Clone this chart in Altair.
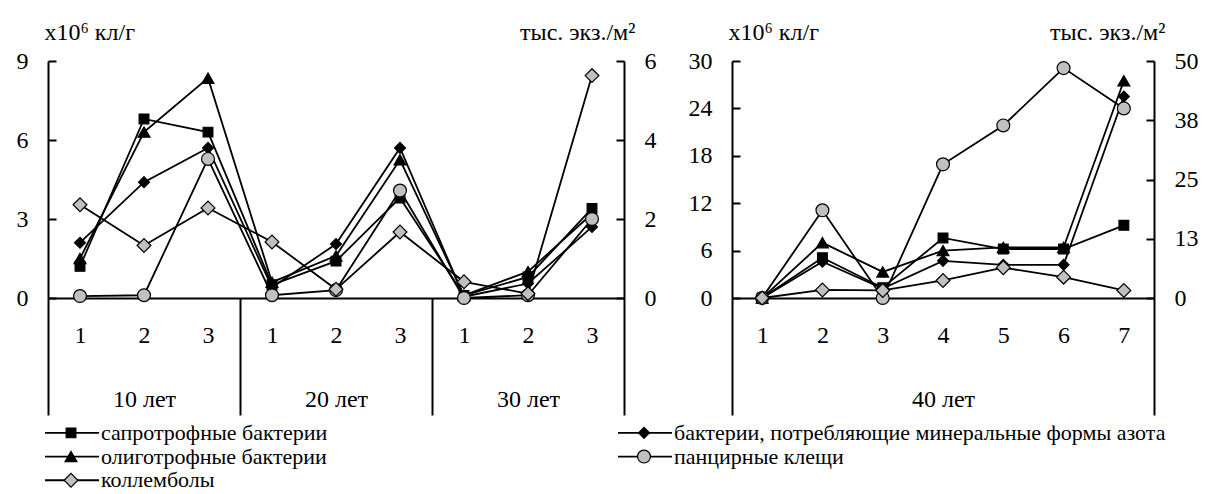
import json
import altair as alt
import pandas as pd

FONT = "'Liberation Serif', 'Times New Roman', Tinos, 'DejaVu Serif', serif"

series = [
    "сапротрофные бактерии",
    "бактерии, потребляющие минеральные формы азота",
    "олиготрофные бактерии",
    "панцирные клещи",
    "коллемболы",
]
bacteria = series[:3]   # left axis, x10^6 кл/г
fauna = series[3:]      # right axis, тыс. экз./м2

left_groups = ["10 лет", "20 лет", "30 лет"]
left_samples = ["1", "2", "3"]
right_groups = ["40 лет"]
right_samples = ["1", "2", "3", "4", "5", "6", "7"]

# left panel
l_sapro = [1.2, 6.8, 6.3, 0.5, 1.4, 3.8, 0.1, 0.8, 3.4]
l_mineral = [2.1, 4.4, 5.7, 0.4, 2.05, 5.7, 0.05, 0.55, 2.7]
l_oligo = [1.5, 6.3, 8.35, 0.6, 1.6, 5.25, 0.1, 1.0, 3.2]
l_mites = [0.05, 0.07, 3.52, 0.07, 0.2, 2.72, 0.0, 0.07, 2.0]
l_collem = [2.36, 1.33, 2.28, 1.42, 0.22, 1.67, 0.41, 0.11, 5.63]

# right panel
r_sapro = [0, 5.1, 1.3, 7.6, 6.2, 6.2, 9.2]
r_mineral = [0, 4.6, 1.2, 4.7, 4.2, 4.2, 25.5]
r_oligo = [0, 7.0, 3.3, 6.0, 6.4, 6.4, 27.5]
r_mites = [0, 18.5, 0, 28.2, 36.4, 48.5, 40.0]
r_collem = [0, 1.7, 1.6, 3.7, 6.4, 4.4, 1.6]

left_yticks = [0, 3, 6, 9]
left_y2ticks = [0, 2, 4, 6]
right_yticks = [0, 6, 12, 18, 24, 30]
right_y2ticks = [0, 12.5, 25, 37.5, 50]

y_title = "x10⁶ кл/г"
y2_title = "тыс. экз./м²"

shapes = ["square", "diamond", "triangle-up", "circle", "diamond"]
fills = ["black", "black", "black", "#c0c0c0", "#c0c0c0"]
sizes = [95, 190, 210, 175, 230]

shape_scale = alt.Scale(domain=series, range=shapes)
fill_scale = alt.Scale(domain=series, range=fills)
size_scale = alt.Scale(domain=series, range=sizes)


def frame(groups, samples, values):
    rows = []
    m = len(samples)
    for name, vals in zip(series, values):
        k = 0
        for gi, _g in enumerate(groups):
            for si, _s in enumerate(samples):
                rows.append({"series": name, "pos": gi * m + si + 1, "value": vals[k]})
                k += 1
    return pd.DataFrame(rows)


def y_axis(orient, vals, title, label_expr=None):
    kw = dict(
        orient=orient, values=vals, ticks=False, grid=True, gridColor="black",
        gridWidth=2, gridDash=[8, 4000], domainColor="black", domainWidth=2,
        labelPadding=20, labelFontSize=24, labelColor="black",
        titleAngle=0, titleBaseline="alphabetic", titleY=-22, titleFontSize=24,
        titleFontWeight="normal", titleColor="black",
    )
    if orient == "left":
        kw.update(titleAlign="left", titleX=-4)
    else:
        kw.update(titleAlign="right", titleX=11)
    if label_expr:
        kw["labelExpr"] = label_expr
    return alt.Axis(**kw)


def panel(df, groups, samples, y_dom, y_vals, y2_dom, y2_vals, width, height, y2_expr=None):
    m = len(samples)
    n = len(groups) * m
    seps = [0.5 + m * k for k in range(len(groups) + 1)]
    xvals = sorted(seps + list(range(1, n + 1)))
    G = json.dumps(groups, ensure_ascii=False)
    S = json.dumps(samples, ensure_ascii=False)
    mid = m // 2
    lab = (
        f"datum.value % 1 != 0 ? '' : "
        f"((datum.value - 1) % {m} == {mid} ? "
        f"[{S}[(datum.value - 1) % {m}], {G}[floor((datum.value - 1) / {m})]] : "
        f"{S}[(datum.value - 1) % {m}])"
    )
    sep_test = "datum.value % 1 != 0"
    x = alt.X(
        "pos:Q", title=None,
        scale=alt.Scale(domain=[0.5, n + 0.5], nice=False, zero=False),
        axis=alt.Axis(
            values=xvals, labelExpr=lab, grid=False, domainColor="black", domainWidth=2,
            tickColor="black", tickWidth=2,
            tickSize={"condition": {"test": sep_test, "value": 117}, "value": 0},
            labelPadding={"condition": {"test": sep_test, "value": -117}, "value": 25},
            labelFontSize={"condition": {"test": sep_test, "value": 0}, "value": 24},
            labelLineHeight=64, labelOverlap=False,
            labelBound=False, labelFlush=False, labelColor="black",
        ),
    )
    yl = alt.Y("value:Q", title=y_title,
               scale=alt.Scale(domain=y_dom, nice=False, zero=True),
               axis=y_axis("left", y_vals, y_title))
    yr = alt.Y("value:Q", title=y2_title,
               scale=alt.Scale(domain=y2_dom, nice=False, zero=True),
               axis=y_axis("right", y2_vals, y2_title, y2_expr))

    def lay(d, y):
        line = alt.Chart(d).mark_line(color="black", strokeWidth=1.8).encode(
            x=x, y=y, detail="series:N")
        pts = alt.Chart(d).mark_point(
            filled=True, stroke="black", strokeWidth=1.2, opacity=1
        ).encode(
            x=x, y=y,
            shape=alt.Shape("series:N", scale=shape_scale, legend=None),
            fill=alt.Fill("series:N", scale=fill_scale, legend=None),
            size=alt.Size("series:N", scale=size_scale, legend=None),
        )
        return alt.layer(line, pts)

    bact = df[df["series"].isin(bacteria)]
    fau = df[df["series"].isin(fauna)]
    return alt.layer(lay(bact, yl), lay(fau, yr)).resolve_scale(y="independent").properties(
        width=width, height=height)


left_df = frame(left_groups, left_samples, [l_sapro, l_mineral, l_oligo, l_mites, l_collem])
right_df = frame(right_groups, right_samples, [r_sapro, r_mineral, r_oligo, r_mites, r_collem])

left = panel(left_df, left_groups, left_samples, [0, 9], left_yticks, [0, 6], left_y2ticks, 576, 237)
right = panel(right_df, right_groups, right_samples, [0, 30], right_yticks, [0, 50], right_y2ticks,
              422, 237, y2_expr="'' + round(datum.value)")

top = alt.hconcat(left, right, spacing=32)

# custom legend (line + marker symbols), two columns filled row-wise
COLSTEP = 573
LEFT0 = -3
leg = []
for i, name in enumerate(series):
    r, c = divmod(i, 2)
    x0 = LEFT0 + c * COLSTEP
    leg.append({"series": name, "row": r, "x0": x0, "x1": x0 + 54, "xm": x0 + 26, "xt": x0 + 56})
legdf = pd.DataFrame(leg)
LW, LH = 1130, 64
lx = alt.Scale(domain=[0, LW], nice=False, zero=False)
ly = alt.Scale(domain=[-0.5, 2.2], reverse=True, nice=False, zero=False)

leg_rule = alt.Chart(legdf).mark_rule(color="black", strokeWidth=1.8).encode(
    x=alt.X("x0:Q", scale=lx, axis=None), x2="x1:Q",
    y=alt.Y("row:Q", scale=ly, axis=None))
leg_pts = alt.Chart(legdf).mark_point(filled=True, stroke="black", strokeWidth=1.2, opacity=1).encode(
    x=alt.X("xm:Q", scale=lx, axis=None),
    y=alt.Y("row:Q", scale=ly, axis=None),
    shape=alt.Shape("series:N", scale=shape_scale, legend=None),
    fill=alt.Fill("series:N", scale=fill_scale, legend=None),
    size=alt.Size("series:N", scale=size_scale, legend=None))
leg_txt = alt.Chart(legdf).mark_text(align="left", baseline="middle", font=FONT, fontSize=22,
                                     color="black").encode(
    x=alt.X("xt:Q", scale=lx, axis=None),
    y=alt.Y("row:Q", scale=ly, axis=None),
    text="series:N")
legend = alt.layer(leg_rule, leg_pts, leg_txt).properties(width=LW, height=LH)

chart = alt.vconcat(top, legend, spacing=5).configure_view(stroke=None).configure_axis(
    labelFont=FONT, titleFont=FONT).configure_text(font=FONT).properties(
    padding={"left": 8, "top": 12, "right": 5, "bottom": 0})

chart.save("out.html", embed_options={"renderer": "svg", "actions": False})
